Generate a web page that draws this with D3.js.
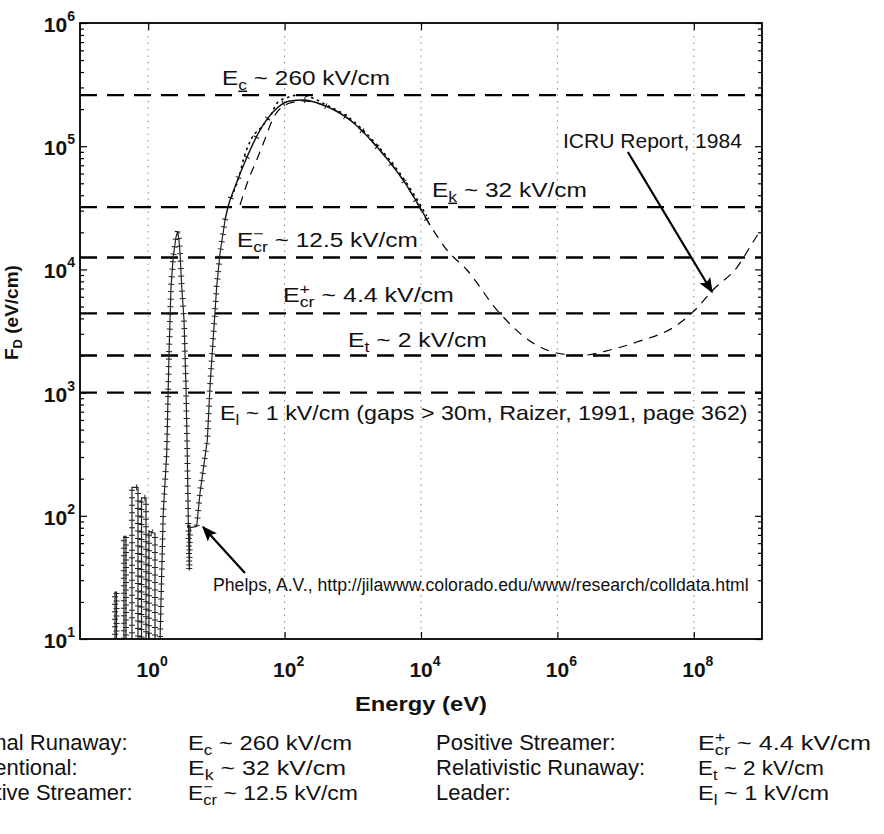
<!DOCTYPE html>
<html><head><meta charset="utf-8">
<script src="https://cdn.jsdelivr.net/npm/d3@7"></script>
<style>
body{margin:0;background:#fff}
svg{display:block}
text{font-family:"Liberation Sans", Arial, Helvetica, sans-serif; fill:#111}
</style>
</head><body><svg id="c" width="884" height="834"></svg>
<script>
// ---------------- data ----------------
const xTickExponents = [0, 2, 4, 6, 8];
const yTickExponents = [1, 2, 3, 4, 5, 6];

// threshold fields (eV/cm) and their labels
const thresholdValues = [2.6e5, 3.2e4, 1.25e4, 4.4e3, 2.0e3, 1.0e3];
const thresholdSub = ["c", "k", "cr", "cr", "t", "l"];
const thresholdSup = ["", "", "\u2212", "+", "", ""];
const thresholdUnderline = [true, true, false, false, false, false];
const thresholdRest = [" ~ 260 kV/cm", " ~ 32 kV/cm", " ~ 12.5 kV/cm", " ~ 4.4 kV/cm", " ~ 2 kV/cm",
  " ~ 1 kV/cm (gaps > 30m, Raizer, 1991, page 362)"];

// Phelps low-energy data (solid with + markers); values below axis are clipped
const phelpsEnergy = [0.326,0.326,0.343,0.343, 0.441,0.441,0.472,0.472, 0.578,0.578,0.708,0.708,
  0.798,0.798,0.929,0.929, 1.027,1.027,1.258,1.258, 1.346, 1.66, 1.87, 2.02, 2.16, 2.33, 2.56, 2.71,
  2.83, 2.93, 3.10, 3.35, 3.58, 3.74, 3.87, 4.01, 4.10, 5.14, 5.75, 6.81, 7.36, 8.06, 9.01, 10.1, 11.3, 13.4];
const phelpsFd = [1,24,24,1, 1,68,68,1, 1,170,170,1, 1,140,140,1, 1,75,72,1, 1, 105, 321, 2085,
  7240, 12700, 18400, 20200, 17300, 13500, 7240, 3880, 1117, 321, 92, 36, 80, 82, 153, 302, 412,
  1117, 2844, 7240, 13500, 25200];

// continuation of the solid curve (sparse markers)
const solidEnergy = [13.4, 14.8, 18.7, 28.1, 43.6, 67.6, 120, 186, 366, 910, 2265, 5445, 13550];
const solidFd = [25200, 32100, 46600, 81700, 135000, 189500, 233000, 237000, 216000, 163000, 98600, 53200, 22900];

// dotted curve
const dottedEnergy = [16.7, 22.2, 24.8, 32.9, 46.1, 64.7, 76.6, 120, 159, 264, 370, 910, 2265, 5445, 12000];
const dottedFd = [38900, 60300, 77300, 115900, 143900, 184900, 222800, 252300, 260600, 244900, 222800,
  168000, 102000, 55500, 27500];

// ICRU Report 1984 (dashed)
const icruEnergy = [22.2, 29.4, 39.0, 48.8, 72.3, 120, 186, 366, 910, 2265, 5445, 13550, 24000, 47200,
  130000, 438000, 986000, 2.14e6, 5.9e6, 1.47e7, 5.7e7, 1.04e8, 1.9e8, 4.3e8, 7.4e8, 1e9];
const icruFd = [33300, 53200, 77300, 105600, 179000, 224000, 233000, 216000, 163000, 98600, 53200, 22900,
  14350, 9890, 4680, 2530, 2095, 2000, 2218, 2576, 3540, 4680, 6800, 10400, 16700, 21700];

// annotations: [tailE, tailF, tipE, tipF]
const phelpsArrow = [26.2, 34.4, 6.37, 81];
const icruArrow = [1.08e7, 89700, 1.85e8, 6560];
const phelpsNote = "Phelps, A.V., http://jilawww.colorado.edu/www/research/colldata.html";
const icruNote = "ICRU Report, 1984";

// table below the chart
const tableCol1 = ["Thermal Runaway:", "Conventional:", "Negative Streamer:"];
const tableCol2Sub = ["c", "k", "cr"];
const tableCol2Sup = ["", "", "\u2212"];
const tableCol2Rest = [" ~ 260 kV/cm", " ~ 32 kV/cm", " ~ 12.5 kV/cm"];
const tableCol3 = ["Positive Streamer:", "Relativistic Runaway:", "Leader:"];
const tableCol4Sub = ["cr", "t", "l"];
const tableCol4Sup = ["+", "", ""];
const tableCol4Rest = [" ~ 4.4 kV/cm", " ~ 2 kV/cm", " ~ 1 kV/cm"];

// ---------------- layout ----------------
const svg = d3.select("#c");
const L = 80, R = 762, T = 23, B = 639;
const x = d3.scaleLog().domain([1e-1, 1e9]).range([L, R]);
const y = d3.scaleLog().domain([1e1, 1e6]).range([B, T]);

const defs = svg.append("defs");
defs.append("clipPath").attr("id", "clip")
  .append("rect").attr("x", L).attr("y", T).attr("width", R - L).attr("height", B - T);
defs.append("marker").attr("id", "arr").attr("viewBox", "0 0 10 10")
  .attr("refX", 9).attr("refY", 5).attr("markerWidth", 7).attr("markerHeight", 7)
  .attr("markerUnits", "strokeWidth").attr("orient", "auto")
  .append("path").attr("d", "M0,1 L10,5 L0,9 L2,5 Z").attr("fill", "#000");

// grid (dotted vertical)
svg.append("g").selectAll("line").data(xTickExponents).join("line")
  .attr("x1", d => x(Math.pow(10, d))).attr("x2", d => x(Math.pow(10, d)))
  .attr("y1", T).attr("y2", B)
  .attr("stroke", "#8a8a8a").attr("stroke-width", 1).attr("stroke-dasharray", "1.5 5");

// axes ticks (inward) using d3 axes
const yMinor = [];
for (let e = 1; e < 6; e++) for (let m = 2; m <= 9; m++) yMinor.push(m * Math.pow(10, e));
const yMajor = yTickExponents.map(e => Math.pow(10, e));
const xMajor = xTickExponents.map(e => Math.pow(10, e));
function styleAxis(g) { g.select(".domain").remove(); g.selectAll("line").attr("stroke", "#000").attr("stroke-width", 1.2); g.selectAll("text").remove(); }
svg.append("g").attr("transform", `translate(${L},0)`).call(d3.axisLeft(y).tickValues(yMajor).tickSize(-7)).call(styleAxis);
svg.append("g").attr("transform", `translate(${L},0)`).call(d3.axisLeft(y).tickValues(yMinor).tickSize(-4)).call(styleAxis);
svg.append("g").attr("transform", `translate(${R},0)`).call(d3.axisRight(y).tickValues(yMajor).tickSize(-7)).call(styleAxis);
svg.append("g").attr("transform", `translate(${R},0)`).call(d3.axisRight(y).tickValues(yMinor).tickSize(-4)).call(styleAxis);
svg.append("g").attr("transform", `translate(0,${B})`).call(d3.axisBottom(x).tickValues(xMajor).tickSize(-7)).call(styleAxis);
svg.append("g").attr("transform", `translate(0,${T})`).call(d3.axisTop(x).tickValues(xMajor).tickSize(-7)).call(styleAxis);

// tick labels 10^n
function power(g, exp, px, py, anchor) {
  const t = g.append("text").attr("x", px).attr("y", py).attr("text-anchor", anchor)
    .attr("font-weight", "bold").attr("font-size", 21);
  t.append("tspan").text("10");
  t.append("tspan").attr("dy", -11).attr("font-size", 14).text(exp);
}
const labG = svg.append("g");
yTickExponents.forEach(e => power(labG, e, 75, y(Math.pow(10, e)) + 9, "end"));
xTickExponents.forEach(e => power(labG, e, x(Math.pow(10, e)) + 4, 677, "middle"));

// threshold dashed lines
const plot = svg.append("g").attr("clip-path", "url(#clip)");
plot.selectAll("line.th").data(thresholdValues).join("line").attr("class", "th")
  .attr("x1", L).attr("x2", R).attr("y1", d => y(d)).attr("y2", d => y(d))
  .attr("stroke", "#000").attr("stroke-width", 2.4).attr("stroke-dasharray", "17 10");

// curves
const line = d3.line().x(d => x(d[0])).y(d => y(d[1]));
const smooth = d3.line().x(d => x(d[0])).y(d => y(d[1])).curve(d3.curveMonotoneX);
const zip = (a, b) => a.map((v, i) => [v, b[i]]);

const icru = zip(icruEnergy, icruFd);
plot.append("path").attr("d", smooth(icru)).attr("fill", "none").attr("stroke", "#000")
  .attr("stroke-width", 1.2).attr("stroke-dasharray", "9 7");

const dotted = zip(dottedEnergy, dottedFd);
plot.append("path").attr("d", smooth(dotted)).attr("fill", "none").attr("stroke", "#000")
  .attr("stroke-width", 1.6).attr("stroke-dasharray", "1.2 5").attr("stroke-linecap", "round");

const phelps = zip(phelpsEnergy, phelpsFd);
plot.append("path").attr("d", line(phelps)).attr("fill", "none").attr("stroke", "#222").attr("stroke-width", 1.2);
plot.append("path").attr("d", line(phelps)).attr("fill", "none").attr("stroke", "#222")
  .attr("stroke-width", 6).attr("stroke-dasharray", "1 6.5");

const solid = zip(solidEnergy, solidFd);
plot.append("path").attr("d", smooth(solid)).attr("fill", "none").attr("stroke", "#111").attr("stroke-width", 1.4);
plot.append("path").attr("d", smooth(solid)).attr("fill", "none").attr("stroke", "#111")
  .attr("stroke-width", 6).attr("stroke-dasharray", "1 21");

// frame
svg.append("rect").attr("x", L).attr("y", T).attr("width", R - L).attr("height", B - T)
  .attr("fill", "none").attr("stroke", "#000").attr("stroke-width", 1.8);

// fitted text helper
function fitted(parent, px, py, width, size, weight, build) {
  const g = parent.append("g");
  const t = g.append("text").attr("font-size", size).attr("font-weight", weight || "normal");
  build(t, size);
  const w = t.node().getBBox().width;
  const s = width ? width / w : 1;
  g.attr("transform", `translate(${px},${py}) scale(${s},1)`);
  return g;
}
function eLabel(sub, sup, rest, underline) {
  return (t, size) => {
    t.append("tspan").text("E");
    const subSize = size * 0.72;
    const st = t.append("tspan").attr("font-size", subSize).attr("dy", size * 0.22).text(sub);
    if (underline) st.attr("text-decoration", "underline");
    if (sup) {
      const subW = st.node().getComputedTextLength();
      const sp = t.append("tspan").attr("font-size", subSize).attr("dx", -subW).attr("dy", -size * 0.62).text(sup);
      const supW = sp.node().getComputedTextLength();
      t.append("tspan").attr("dx", Math.max(0, subW - supW)).attr("dy", size * 0.40).text(rest);
    } else {
      t.append("tspan").attr("dy", -size * 0.22).text(rest);
    }
  };
}
const labelLeft = [222, 432, 237, 283, 348, 220];
const labelBase = [85, 197, 247, 302, 347, 420];
const labelWidth = [168, 155, 181, 171, 139, 528];
thresholdValues.forEach((v, i) => {
  fitted(svg, labelLeft[i], labelBase[i], labelWidth[i], 21, "normal",
    eLabel(thresholdSub[i], thresholdSup[i], thresholdRest[i], thresholdUnderline[i]));
});

// annotations
fitted(svg, 563, 148, 179, 20, "normal", t => t.text(icruNote));
fitted(svg, 213, 591, 536, 19, "normal", t => t.text(phelpsNote));
svg.append("line").attr("x1", x(icruArrow[0])).attr("y1", y(icruArrow[1]))
  .attr("x2", x(icruArrow[2])).attr("y2", y(icruArrow[3]))
  .attr("stroke", "#000").attr("stroke-width", 2.2).attr("marker-end", "url(#arr)");
svg.append("line").attr("x1", x(phelpsArrow[0])).attr("y1", y(phelpsArrow[1]))
  .attr("x2", x(phelpsArrow[2])).attr("y2", y(phelpsArrow[3]))
  .attr("stroke", "#000").attr("stroke-width", 2.2).attr("marker-end", "url(#arr)");

// axis titles
fitted(svg, 355, 711, 132, 20, "bold", t => t.text("Energy (eV)"));
const yt = svg.append("g").attr("transform", "translate(18,360) rotate(-90)");
const ytt = yt.append("text").attr("font-size", 19).attr("font-weight", "bold");
ytt.append("tspan").text("F");
ytt.append("tspan").attr("font-size", 13).attr("dy", 4).text("D");
ytt.append("tspan").attr("dy", -4).text(" (eV/cm)");

// table
const rowBase = [750, 775, 800];
const col2Width = [164, 158, 170];
const col4Width = [173, 126, 131];
rowBase.forEach((yy, i) => {
  fitted(svg, -57, yy, null, 22, "normal", t => t.text(tableCol1[i]));
  fitted(svg, 188, yy, col2Width[i], 21, "normal", eLabel(tableCol2Sub[i], tableCol2Sup[i], tableCol2Rest[i], false));
  fitted(svg, 436, yy, null, 22, "normal", t => t.text(tableCol3[i]));
  fitted(svg, 698, yy, col4Width[i], 21, "normal", eLabel(tableCol4Sub[i], tableCol4Sup[i], tableCol4Rest[i], false));
});
</script></body></html>
